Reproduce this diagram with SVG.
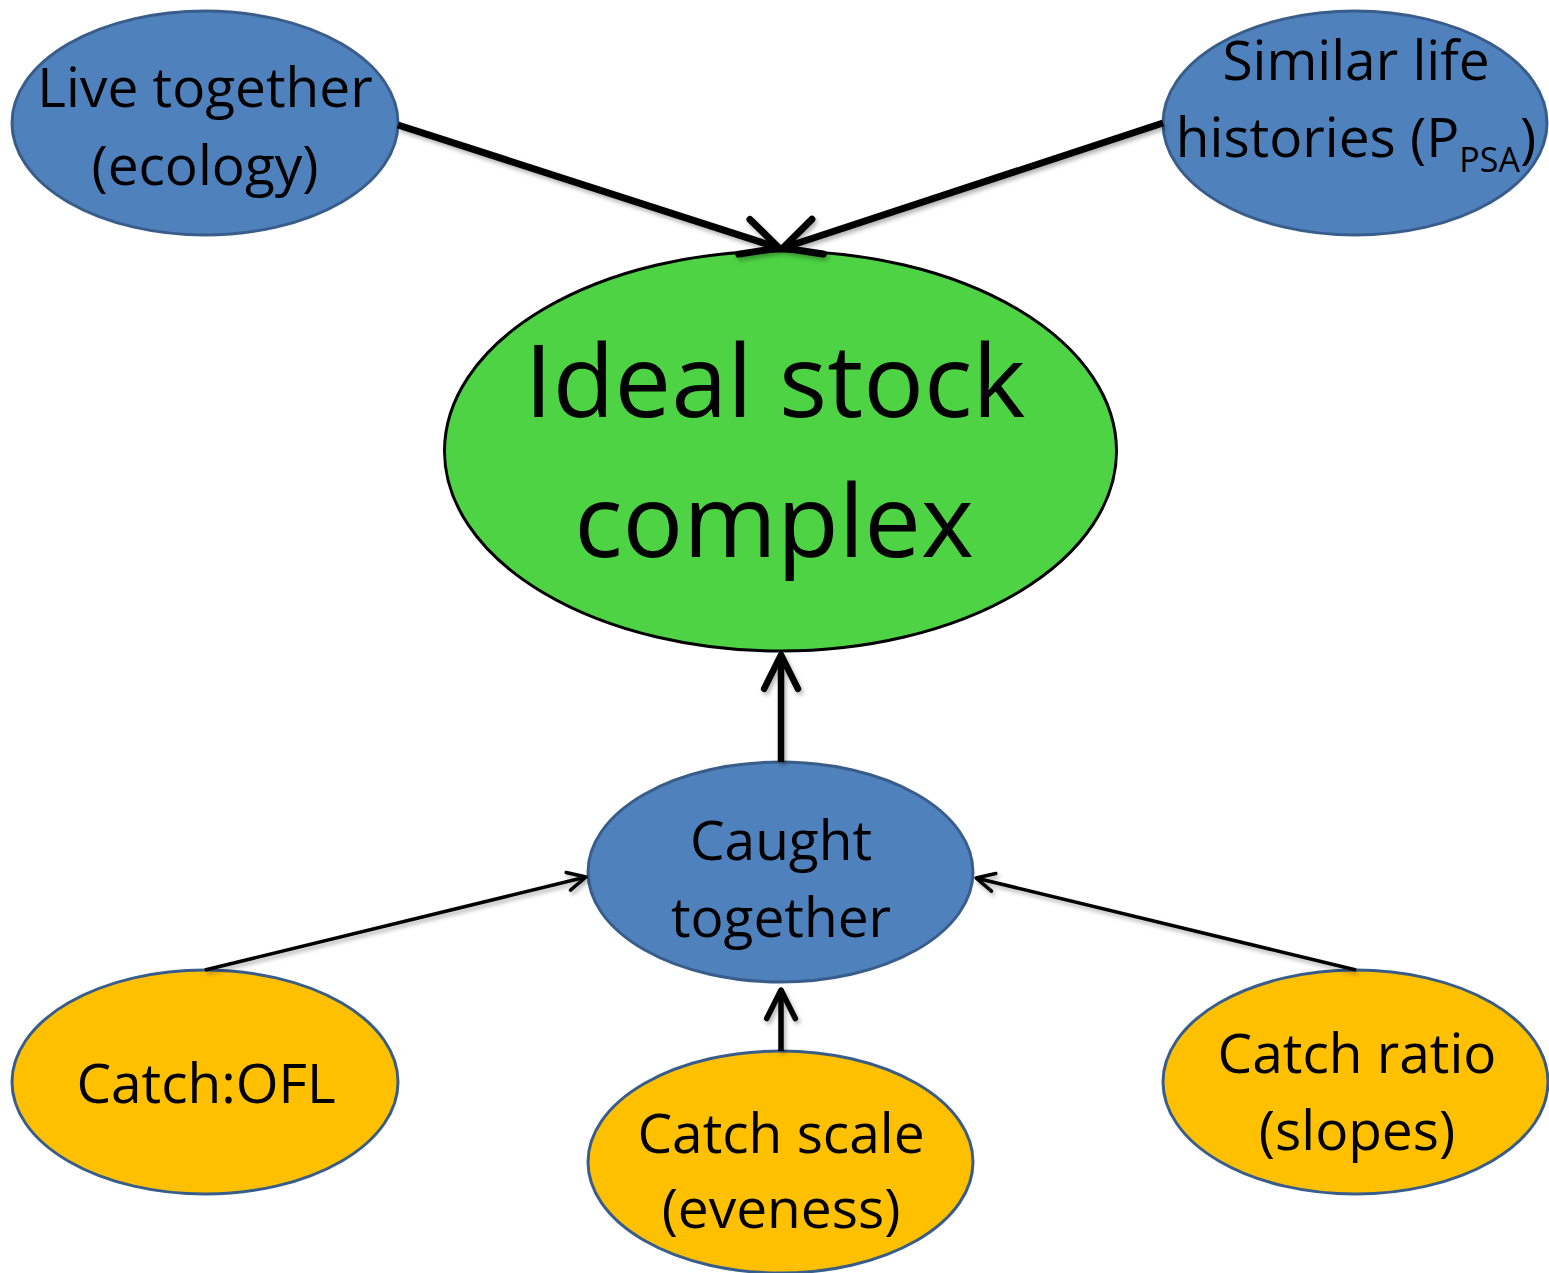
<svg xmlns="http://www.w3.org/2000/svg" width="1549" height="1273" viewBox="0 0 1549 1273">
  <style>
    .lbl { font-family: "Open Sans", "Lato", "Liberation Sans", sans-serif; fill: #000; text-anchor: middle; }
    .sm { font-size: 55px; }
    .big { font-size: 101px; }
    .blue { fill: #4F81BD; stroke: #385D8A; stroke-width: 3; }
    .gold { fill: #FFC000; stroke: #385D8A; stroke-width: 3; }
    .green { fill: #4DD344; stroke: #000; stroke-width: 3; }
    .edge { fill: none; stroke: #000; stroke-linecap: butt; marker-end: url(#head); }
  </style>
  <defs>
    <marker id="head" markerUnits="strokeWidth" orient="auto" refX="0" refY="0" overflow="visible">
      <path d="M-5.2,-2.6 L0,0 L-5.2,2.6" fill="none" stroke="#000" stroke-width="1" stroke-linecap="round" stroke-linejoin="round"/>
    </marker>
    <filter id="shade" x="-20%" y="-20%" width="140%" height="140%">
      <feDropShadow dx="2" dy="3" stdDeviation="2" flood-color="#000" flood-opacity="0.3"/>
    </filter>
  </defs>

  <!-- central outcome -->
  <g id="ideal-stock-complex">
    <ellipse class="green" cx="780.5" cy="451" rx="336" ry="200"/>
    <text class="lbl big" x="775" y="417">Ideal stock</text>
    <text class="lbl big" x="774" y="557">complex</text>
  </g>

  <!-- upper criteria -->
  <g id="live-together">
    <ellipse class="blue" cx="205" cy="123" rx="193" ry="112"/>
    <text class="lbl sm" x="205" y="107">Live together</text>
    <text class="lbl sm" x="205" y="185">(ecology)</text>
  </g>
  <g id="similar-life-histories">
    <ellipse class="blue" cx="1355" cy="123" rx="192" ry="112"/>
    <text class="lbl sm" x="1356" y="80">Similar life</text>
    <text class="lbl sm" x="1356" y="157">histories (P<tspan font-size="34" dy="15">PSA</tspan><tspan dy="-15">)</tspan></text>
  </g>

  <!-- fishery link -->
  <g id="caught-together">
    <ellipse class="blue" cx="780.5" cy="872" rx="192.5" ry="110"/>
    <text class="lbl sm" x="781" y="860">Caught</text>
    <text class="lbl sm" x="781" y="937">together</text>
  </g>

  <!-- catch indicators -->
  <g id="catch-ofl">
    <ellipse class="gold" cx="205" cy="1082" rx="193" ry="112"/>
    <text class="lbl sm" x="206" y="1103">Catch:OFL</text>
  </g>
  <g id="catch-scale">
    <ellipse class="gold" cx="780.5" cy="1162" rx="192.5" ry="111"/>
    <text class="lbl sm" x="781" y="1153">Catch scale</text>
    <text class="lbl sm" x="781" y="1228">(eveness)</text>
  </g>
  <g id="catch-ratio">
    <ellipse class="gold" cx="1355.5" cy="1082" rx="192.5" ry="112"/>
    <text class="lbl sm" x="1357" y="1073">Catch ratio</text>
    <text class="lbl sm" x="1357" y="1150">(slopes)</text>
  </g>

  <g id="connectors" filter="url(#shade)">
    <line class="edge" x1="398" y1="125" x2="779" y2="248" stroke-width="7"/>
    <line class="edge" x1="1163" y1="123" x2="783" y2="248" stroke-width="7"/>
    <line class="edge" x1="781" y1="762" x2="781" y2="655" stroke-width="6.5"/>
    <line class="edge" x1="205" y1="970" x2="586" y2="877" stroke-width="3.5"/>
    <line class="edge" x1="1356" y1="970" x2="976" y2="878" stroke-width="3.5"/>
    <line class="edge" x1="781" y1="1051" x2="781" y2="990" stroke-width="5.5"/>
  </g>
</svg>
